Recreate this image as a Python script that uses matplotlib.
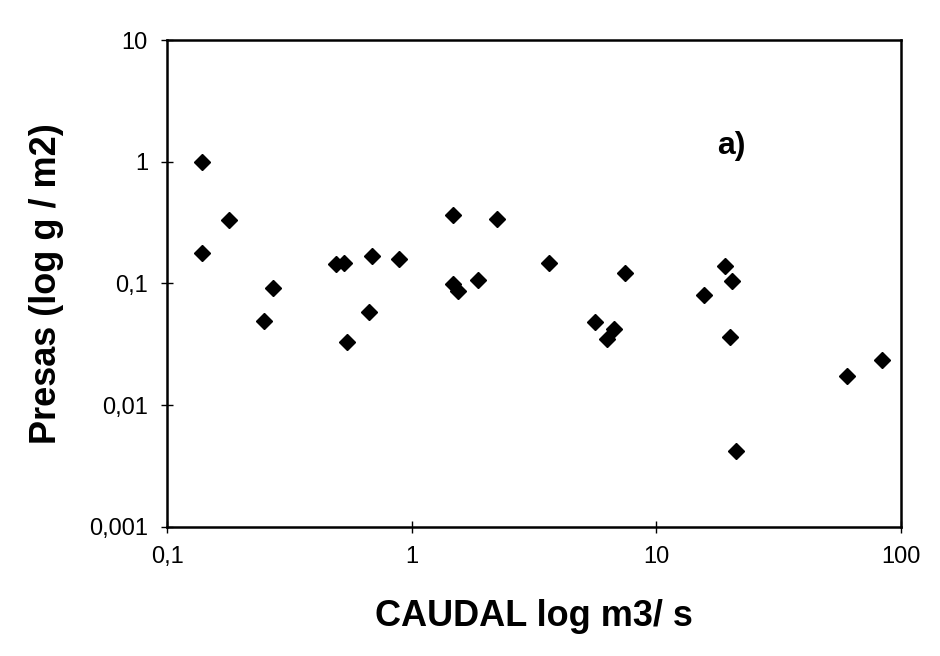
import matplotlib.pyplot as plt

plt.rcParams['font.family'] = ['Liberation Sans', 'DejaVu Sans']

# caudal (m3/s) vs presas (g/m2)
caudal = [0.139, 0.179, 0.139, 0.489, 0.526, 0.688, 0.888, 0.270, 0.248,
          0.671, 0.543, 1.47, 2.24, 3.64, 7.48, 1.47, 1.54, 1.86, 5.64,
          6.72, 6.29, 19.2, 20.4, 15.7, 20.1, 60.3, 83.7, 21.3]
presas = [0.995, 0.329, 0.179, 0.145, 0.147, 0.168, 0.159, 0.091, 0.049,
          0.058, 0.033, 0.366, 0.340, 0.146, 0.122, 0.098, 0.086, 0.106, 0.048,
          0.042, 0.035, 0.140, 0.104, 0.081, 0.036, 0.0174, 0.0233, 0.0042]

xticks = [0.1, 1, 10, 100]
xticklabels = ["0,1", "1", "10", "100"]
yticks = [0.001, 0.01, 0.1, 1, 10]
yticklabels = ["0,001", "0,01", "0,1", "1", "10"]

fig = plt.figure(figsize=(9.4, 6.56), dpi=100)
ax = fig.add_axes([0.178, 0.197, 0.78, 0.742])

ax.plot(caudal, presas, linestyle="none", marker="D", ms=8.5, color="black")

ax.set_xscale("log")
ax.set_yscale("log")
ax.set_xlim(0.1, 100)
ax.set_ylim(0.001, 10)

ax.set_xticks(xticks)
ax.set_xticklabels(xticklabels)
ax.set_yticks(yticks)
ax.set_yticklabels(yticklabels)
ax.minorticks_off()
ax.tick_params(axis="both", direction="inout", length=8, width=1, labelsize=17, pad=10)

for s in ax.spines.values():
    s.set_linewidth(1.8)

ax.set_xlabel("CAUDAL log m3/ s", fontsize=26, fontweight="bold", labelpad=22)
ax.set_ylabel("Presas (log g / m2)", fontsize=26, fontweight="bold", labelpad=18)

ax.text(0.75, 0.765, "a)", transform=ax.transAxes, fontsize=23, fontweight="bold")

fig.savefig("out.png", dpi=100)
